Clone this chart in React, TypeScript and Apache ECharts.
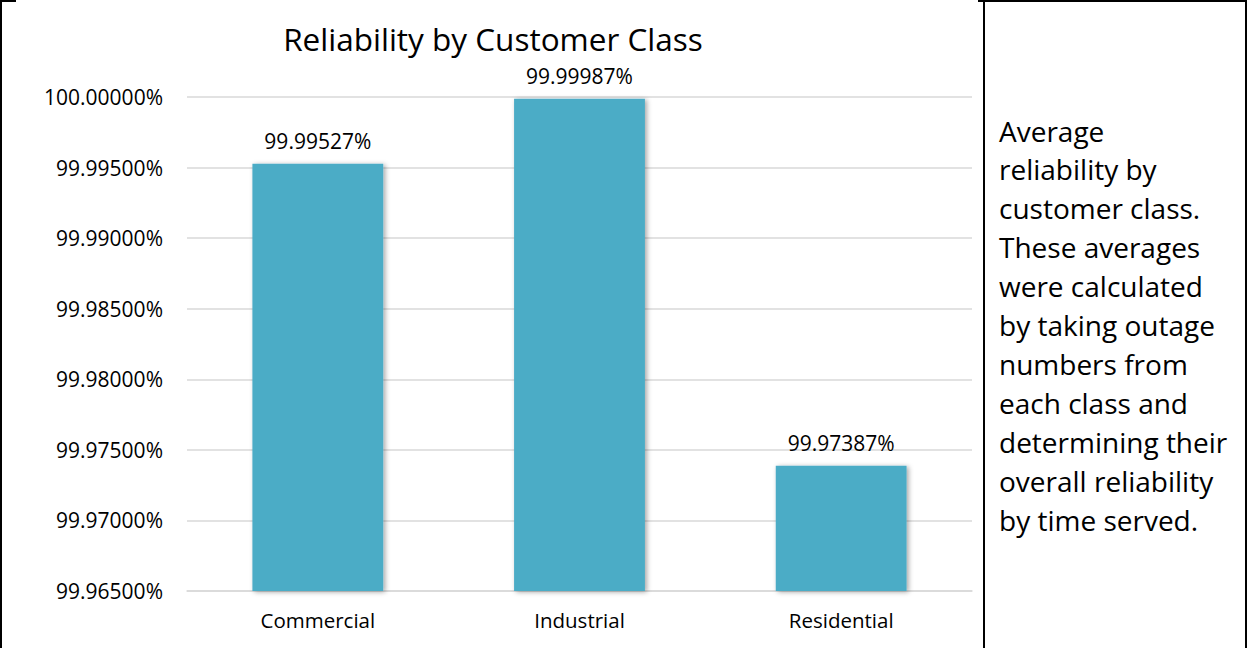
import React, { useEffect, useRef } from "react";
import * as echarts from "echarts";

const categories = ["Commercial", "Industrial", "Residential"];
const reliability = [99.99527, 99.99987, 99.97387];
const yMin = 99.965;
const yMax = 100.0;
const yStep = 0.005;
const chartTitle = "Reliability by Customer Class";
const noteLines = [
  "Average",
  "reliability by",
  "customer class.",
  "These averages",
  "were calculated",
  "by taking outage",
  "numbers from",
  "each class and",
  "determining their",
  "overall reliability",
  "by time served.",
];

const FONT = "'Open Sans', sans-serif";

export default function App() {
  const ref = useRef<HTMLDivElement>(null);
  useEffect(() => {
    if (!ref.current) return;
    const chart = echarts.init(ref.current, null, { renderer: "svg" });
    chart.setOption({
      animation: false,
      backgroundColor: "#ffffff",
      title: {
        text: chartTitle,
        left: 488,
        top: 17,
        textAlign: "center",
        textStyle: { fontFamily: FONT, fontSize: 31.5, fontWeight: "normal", color: "#000000" },
      },
      grid: { left: 187, right: 275, top: 97, bottom: 57, containLabel: false },
      xAxis: {
        type: "category",
        data: categories,
        axisLine: { show: true, lineStyle: { color: "#d9d9d9", width: 1.5 } },
        axisTick: { show: false },
        axisLabel: { fontFamily: FONT, fontSize: 20.5, color: "#000000", margin: 18 },
      },
      yAxis: {
        type: "value",
        min: yMin,
        max: yMax,
        interval: yStep,
        axisLine: { show: false },
        axisTick: { show: false },
        splitLine: { show: true, lineStyle: { color: "#d9d9d9", width: 1.5 } },
        axisLabel: {
          fontFamily: FONT,
          fontSize: 21,
          color: "#000000",
          margin: 24,
          formatter: (v: number) => v.toFixed(5) + "%",
        },
      },
      series: [
        {
          type: "bar",
          data: reliability,
          barWidth: "50%",
          itemStyle: {
            color: "#4BACC6",
            shadowBlur: 5,
            shadowColor: "rgba(0,0,0,0.35)",
            shadowOffsetX: 2,
            shadowOffsetY: 1,
          },
          label: {
            show: true,
            position: "top",
            distance: 12,
            fontFamily: FONT,
            fontSize: 21,
            color: "#000000",
            formatter: (p: any) => Number(p.value).toFixed(5) + "%",
          },
        },
      ],
      graphic: [
        { type: "rect", shape: { x: 0, y: 0, width: 2, height: 648 }, style: { fill: "#000" } },
        { type: "rect", shape: { x: 0, y: 0, width: 16, height: 2 }, style: { fill: "#000" } },
        { type: "rect", shape: { x: 978, y: 0, width: 269, height: 2 }, style: { fill: "#000" } },
        { type: "rect", shape: { x: 983, y: 0, width: 2, height: 648 }, style: { fill: "#000" } },
        { type: "rect", shape: { x: 1245, y: 0, width: 2, height: 648 }, style: { fill: "#000" } },
        ...noteLines.map((t, i) => ({
          type: "text",
          x: 999,
          y: 130.5 + i * 38.9,
          style: {
            text: t,
            fontFamily: FONT,
            fontSize: 28,
            fill: "#000000",
            textVerticalAlign: "middle",
            textAlign: "left",
          },
        })),
      ],
    });
    return () => chart.dispose();
  }, []);
  return (
    <div
      ref={ref}
      style={{ position: "fixed", left: 0, top: 0, width: 1247, height: 648, background: "#fff" }}
    />
  );
}
